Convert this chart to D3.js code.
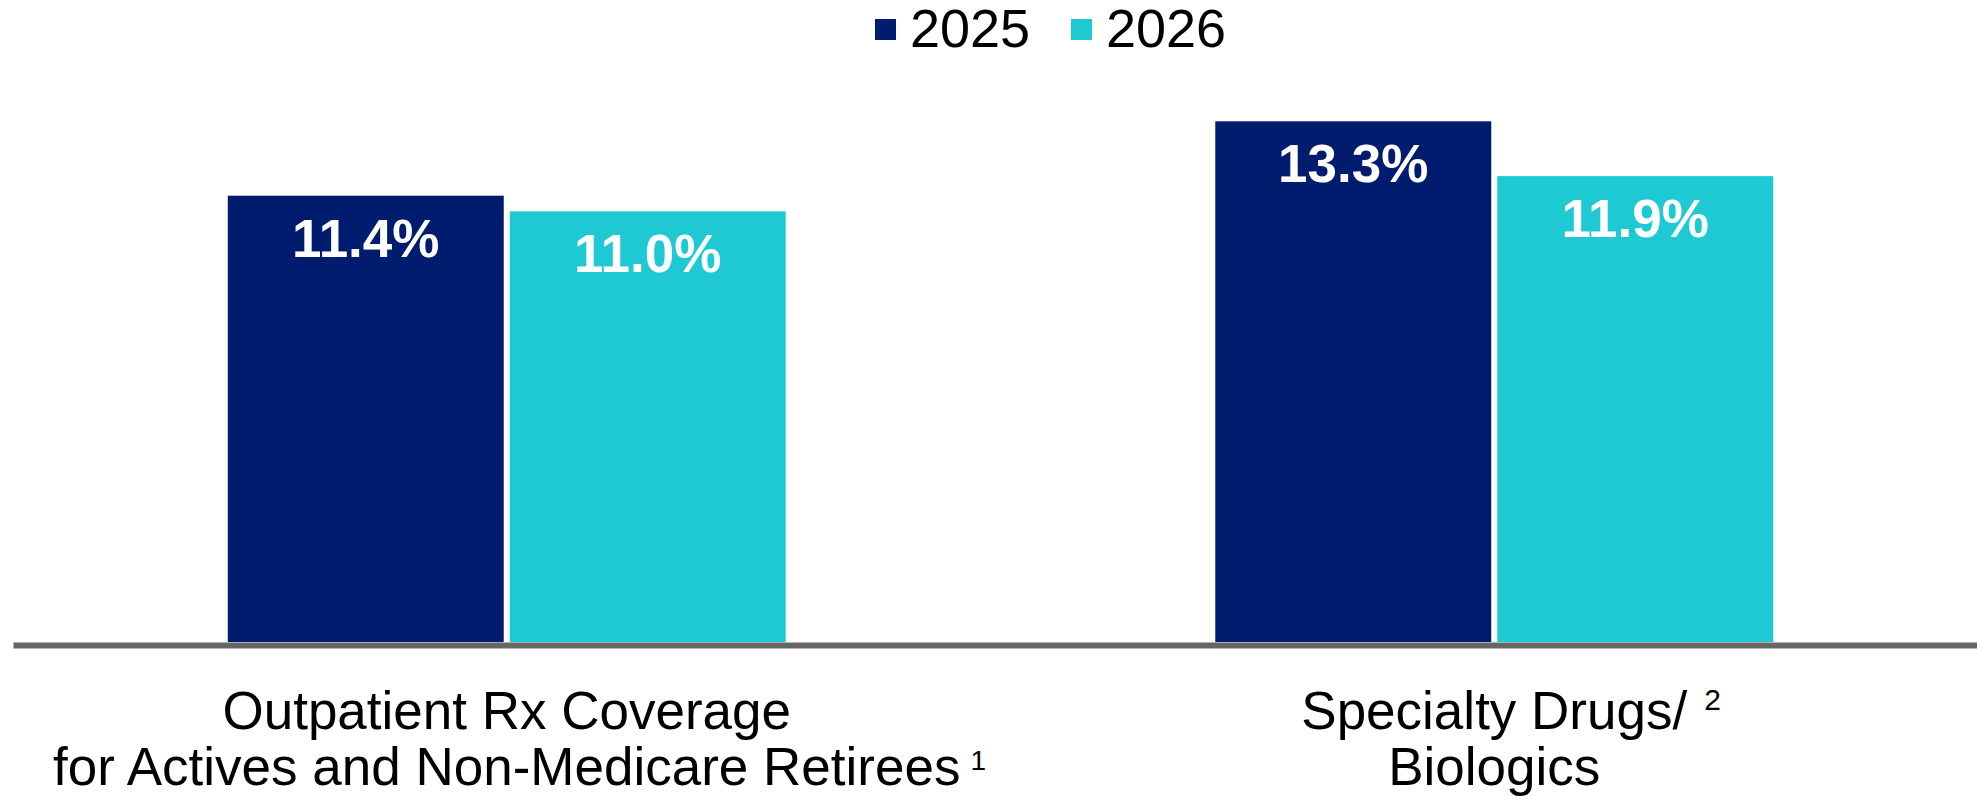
<!DOCTYPE html>
<html lang="en">
<head>
    <meta charset="utf-8">
    <title>Rx trend</title>
    <script src="https://d3js.org/d3.v7.min.js"></script>
    <style>
        body { margin: 0; background: #fff; }
        text { font-family: "Liberation Sans", Arial, sans-serif; }
    </style>
</head>
<body>
    <div id="chart"></div>
    <script>
        // data
        const categories = ["Outpatient Rx", "Specialty"];
        const labelLines = [
            ["Outpatient Rx Coverage", "for Actives and Non-Medicare Retirees"],
            ["Specialty Drugs/", "Biologics"]
        ];
        const footnotes = ["1", "2"];
        const footnoteLine = [1, 0];
        const years = ["2025", "2026"];
        const values2025 = [11.4, 13.3];
        const values2026 = [11.0, 11.9];
        const colors = ["#001c6e", "#1fc9d4"];

        const w = 1977;
        const h = 796;
        const baseY = 642;

        const svg = d3.select("#chart")
            .append("svg")
            .attr("width", w)
            .attr("height", h);

        const x0 = d3.scaleBand()
            .domain(categories)
            .range([13, 1988])
            .paddingInner(0.435)
            .paddingOuter(0.2175);

        const x1 = d3.scaleBand()
            .domain(years)
            .range([0, x0.bandwidth()])
            .paddingInner(0.0213);

        const y = d3.scaleLinear()
            .domain([0, 14])
            .range([baseY, baseY - 14 * 39.15]);

        const rows = [];
        categories.forEach((c, i) => {
            rows.push({ cat: c, year: "2025", value: values2025[i] });
            rows.push({ cat: c, year: "2026", value: values2026[i] });
        });

        // bars
        svg.selectAll("rect.bar")
            .data(rows)
            .enter()
            .append("rect")
            .attr("class", "bar")
            .attr("x", d => x0(d.cat) + x1(d.year))
            .attr("y", d => y(d.value))
            .attr("width", x1.bandwidth())
            .attr("height", d => baseY - y(d.value))
            .attr("fill", d => colors[years.indexOf(d.year)]);

        // value labels
        svg.selectAll("text.value")
            .data(rows)
            .enter()
            .append("text")
            .attr("class", "value")
            .attr("x", d => x0(d.cat) + x1(d.year) + x1.bandwidth() / 2)
            .attr("y", d => y(d.value) + 61)
            .attr("text-anchor", "middle")
            .attr("fill", "#fff")
            .style("font-weight", "bold")
            .style("font-size", "53px")
            .text(d => d.value.toFixed(1) + "%");

        // baseline axis
        const xAxis = d3.axisBottom(x0).tickSize(0).tickSizeOuter(0).tickFormat("");
        const axisG = svg.append("g")
            .attr("transform", `translate(0, ${baseY + 3})`)
            .call(xAxis);
        axisG.select(".domain")
            .attr("stroke", "#666666")
            .attr("stroke-width", 6);

        // category labels
        const lineY = [729, 785];
        categories.forEach((c, i) => {
            const cx = x0(c) + x0.bandwidth() / 2;
            labelLines[i].forEach((line, j) => {
                const t = svg.append("text")
                    .attr("x", cx)
                    .attr("y", lineY[j])
                    .attr("text-anchor", "middle")
                    .attr("fill", "#000")
                    .style("font-size", "53px")
                    .text(line);
                if (footnoteLine[i] === j) {
                    const len = t.node().getComputedTextLength();
                    svg.append("text")
                        .attr("x", cx + len / 2 + (j === 0 ? 17 : 10))
                        .attr("y", lineY[j] - (j === 0 ? 19 : 15))
                        .attr("fill", "#000")
                        .style("font-size", j === 0 ? "30px" : "28px")
                        .text(footnotes[i]);
                }
            });
        });

        // legend
        const legend = svg.append("g");
        const legendX = [875, 1071];
        years.forEach((yr, i) => {
            legend.append("rect")
                .attr("x", legendX[i])
                .attr("y", 19)
                .attr("width", 21)
                .attr("height", 21)
                .attr("fill", colors[i]);
            legend.append("text")
                .attr("x", legendX[i] + 35)
                .attr("y", 47)
                .attr("fill", "#000")
                .style("font-size", "54px")
                .text(yr);
        });
    </script>
</body>
</html>
